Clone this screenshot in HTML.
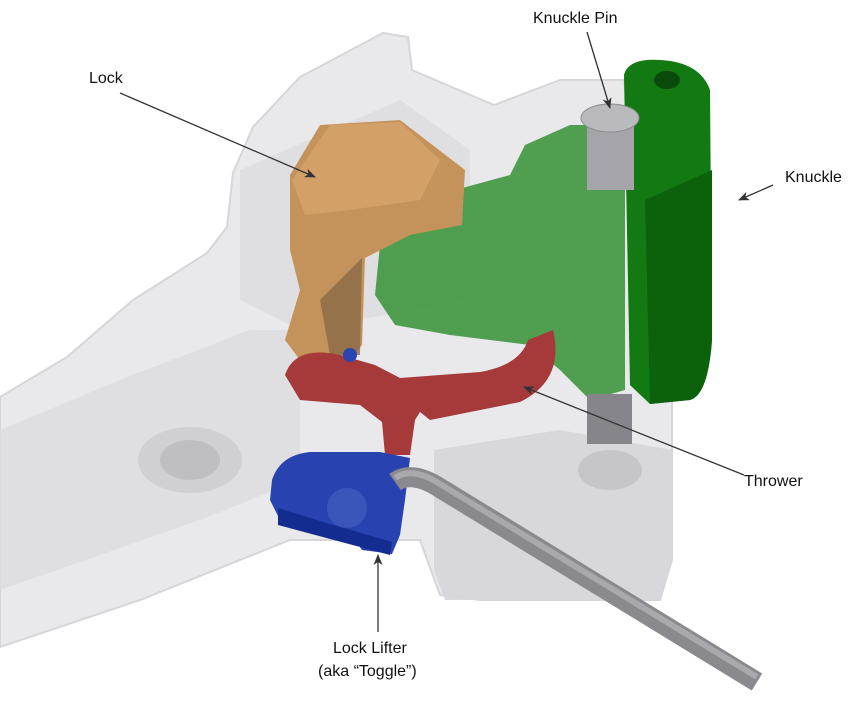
<!DOCTYPE html>
<html><head><meta charset="utf-8"><style>
html,body{margin:0;padding:0;background:#fff;}
svg{display:block}
text{font-family:"Liberation Sans",sans-serif;font-size:16px;fill:#111}
</style></head><body>
<svg width="854" height="715" viewBox="0 0 854 715" xmlns="http://www.w3.org/2000/svg">
<defs>
<marker id="ah" markerWidth="11" markerHeight="10" refX="10" refY="5" orient="auto" markerUnits="userSpaceOnUse">
<path d="M0,0.5 L11,5 L0,9.5 L3,5 Z" fill="#333"/></marker>
</defs>
<!-- coupler body (translucent) -->
<path d="M0,397 L67,357 L133,300 L207,253 L227,227 L233,173 L253,127 L300,77 L383,33 L408,37 L412,70 L494,105 L560,80 L624,80 L630,130 L672,150 L672,560 L660,600 L560,600 L480,600 L440,595 L420,540 L290,540 L140,600 L0,647 Z" fill="#e9e9ec" stroke="#d6d6da" stroke-width="2"/>
<path d="M0,430 L120,380 L250,330 L300,330 L300,480 L200,520 L0,590 Z" fill="#dcdce0" opacity="0.8"/>
<path d="M434,450 L560,430 L672,450 L672,560 L660,600 L445,600 L434,570 Z" fill="#d6d6da" opacity="0.9"/>
<path d="M240,170 L400,100 L470,150 L470,300 L300,330 L240,300 Z" fill="#d8d8dc" opacity="0.6"/>
<ellipse cx="190" cy="460" rx="52" ry="33" fill="#d0d0d4"/>
<ellipse cx="190" cy="460" rx="30" ry="20" fill="#bebec3"/>
<ellipse cx="610" cy="470" rx="32" ry="20" fill="#c6c6ca"/>
<!-- knuckle -->
<path d="M380,245 L440,225 L455,190 L510,175 L525,145 L570,125 L625,125 L625,390 L590,400 L560,370 L530,345 L450,335 L395,325 L375,295 Z" fill="#3f973f" opacity="0.9"/>
<path d="M624,75 Q628,58 660,60 Q700,62 710,90 L712,340 Q708,395 690,400 L650,404 L630,385 Z" fill="#137a13"/>
<path d="M645,200 L712,170 L712,340 Q708,395 690,400 L650,404 Z" fill="#0b620b"/>
<ellipse cx="667" cy="80" rx="13" ry="9" fill="#0a4a0a"/>
<!-- knuckle pin -->
<rect x="587" y="118" width="47" height="72" fill="#a4a4aa"/>
<ellipse cx="610" cy="118" rx="29" ry="14" fill="#b9b9be" stroke="#8a8a90"/>
<rect x="587" y="394" width="45" height="50" fill="#85858b"/>
<!-- lock -->
<path d="M290,175 L320,125 L400,120 L465,170 L462,225 L410,235 L365,258 L362,345 L350,360 L300,360 L285,340 L300,290 L290,250 Z" fill="#c4935b"/>
<path d="M292,180 L330,125 L400,122 L440,160 L420,200 L350,210 L305,215 Z" fill="#d3a068"/>
<path d="M362,258 L360,355 L330,355 L320,300 Z" fill="#8a6a45" opacity="0.8"/>
<!-- thrower -->
<path d="M285,375 Q295,345 340,355 L375,365 L400,378 L480,372 Q520,365 528,340 L553,330 Q565,380 520,402 L430,420 L420,412 L415,420 L410,455 L385,455 L382,422 L360,405 L300,400 Z" fill="#a63a3a"/>
<circle cx="350" cy="355" r="7" fill="#2b45b0"/>
<!-- lifter -->
<path d="M272,480 Q280,455 310,452 L380,452 L410,458 L405,500 L400,535 L392,554 L362,550 L355,540 L320,530 L280,520 L270,500 Z" fill="#2843b0"/>
<path d="M278,508 L330,524 L392,542 L390,555 L278,525 Z" fill="#142c90"/>
<ellipse cx="347" cy="508" rx="20" ry="20" fill="#3a56bb"/>
<!-- rod -->
<path d="M395,482 Q412,470 440,488 L757,682" fill="none" stroke="#8a8a8e" stroke-width="20" stroke-linecap="butt"/>
<path d="M395,478 Q412,466 440,484 L757,677" fill="none" stroke="#a9a9ad" stroke-width="6"/>
<!-- leader lines -->
<line x1="120" y1="93" x2="315" y2="177" stroke="#333" stroke-width="1.3" marker-end="url(#ah)"/>
<line x1="587" y1="32" x2="610" y2="108" stroke="#333" stroke-width="1.3" marker-end="url(#ah)"/>
<line x1="773" y1="185" x2="739" y2="200" stroke="#333" stroke-width="1.3" marker-end="url(#ah)"/>
<line x1="744" y1="475" x2="524" y2="387" stroke="#333" stroke-width="1.3" marker-end="url(#ah)"/>
<line x1="378" y1="632" x2="378" y2="555" stroke="#333" stroke-width="1.3" marker-end="url(#ah)"/>
<text x="89" y="83">Lock</text>
<text x="533" y="23">Knuckle Pin</text>
<text x="785" y="182">Knuckle</text>
<text x="744" y="486">Thrower</text>
<text x="333" y="653">Lock Lifter</text>
<text x="318" y="676">(aka “Toggle”)</text>
</svg>
</body></html>
